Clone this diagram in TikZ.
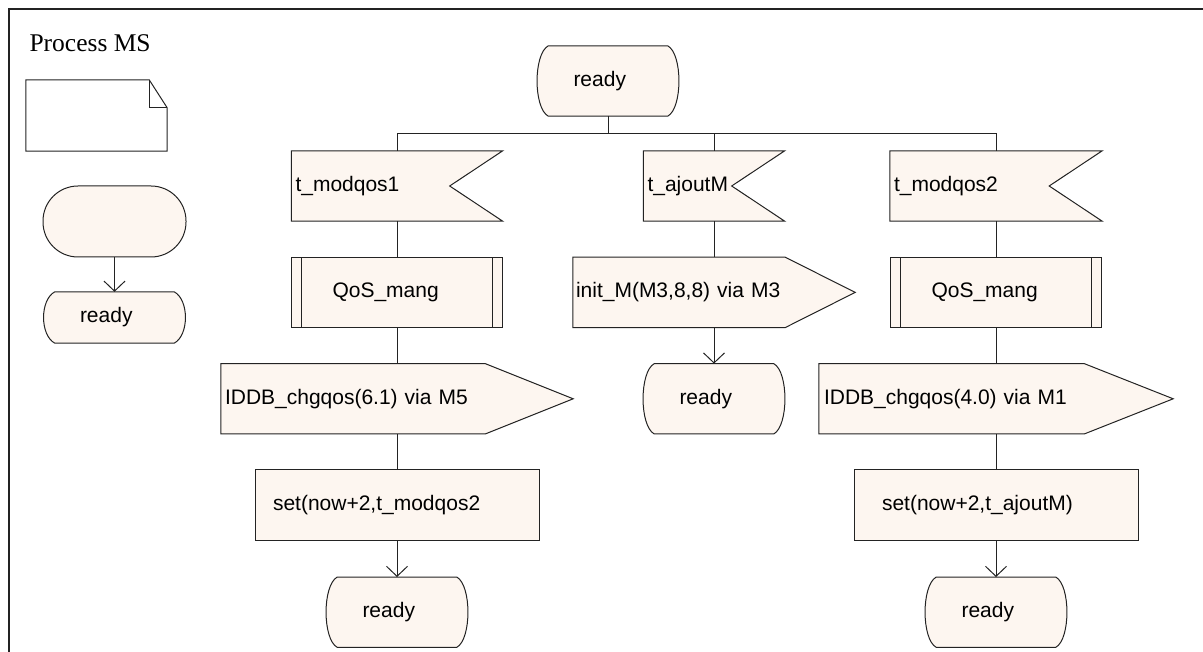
\documentclass[tikz,border=0pt]{standalone}
\usepackage{fontspec}
\setmainfont{Liberation Serif}
\setsansfont{Liberation Sans}
\usepackage{tikz}
\usetikzlibrary{positioning,backgrounds,arrows.meta}

\definecolor{sdlfill}{RGB}{253,246,240}
\definecolor{sdlline}{RGB}{35,35,35}

\tikzset{
  line/.style={draw=sdlline,line width=1pt},
  arr/.style={line,-{Straight Barb[length=10pt,width=21pt]}},
  sym/.style={draw=sdlline,line width=1pt,fill=sdlfill},
  box/.style={inner ysep=0pt,minimum height=70pt,align=left,font=\sffamily\fontsize{21}{25}\selectfont},
  state/.style={box,inner xsep=36pt,text width=69pt},
  input/.style={box,inner xsep=4pt},
  proc/.style={box,inner xsep=41pt,text width=129pt},
  output/.style={box,inner xsep=4pt},
  task/.style={box,sym,minimum height=71pt},
  startsym/.style={sym,inner sep=0pt,minimum width=143pt,minimum height=71pt,rounded corners=35pt},
  note/.style={inner sep=0pt,minimum width=141pt,minimum height=71pt}
}

\newcommand\statesym[1]{\path[sym] ([xshift=11pt]#1.north west) -- ([xshift=-11pt]#1.north east)
  .. controls ([xshift=4pt,yshift=-8pt]#1.north east) and ([xshift=4pt,yshift=8pt]#1.south east) .. ([xshift=-11pt]#1.south east)
  -- ([xshift=11pt]#1.south west)
  .. controls ([xshift=-4pt,yshift=8pt]#1.south west) and ([xshift=-4pt,yshift=-8pt]#1.north west) .. ([xshift=11pt]#1.north west) -- cycle;}
\newcommand\insym[1]{\path[sym] (#1.north west) -- (#1.north east) -- ([xshift=-53pt]#1.east) -- (#1.south east) -- (#1.south west) -- cycle;}
\newcommand\outsym[2]{\path[sym] (#1.north west) -- ([xshift=-#2]#1.north east) -- (#1.east) -- ([xshift=-#2]#1.south east) -- (#1.south west) -- cycle;}
\newcommand\procsym[1]{\path[sym] (#1.north west) rectangle (#1.south east);
  \draw[line] ([xshift=10pt]#1.north west) -- ([xshift=10pt]#1.south west) ([xshift=-10pt]#1.north east) -- ([xshift=-10pt]#1.south east);}
\newcommand\notesym[1]{\path[line,fill=white] (#1.north west) -- ([xshift=-18pt]#1.north east) -- ([yshift=-28pt]#1.north east) -- (#1.south east) -- (#1.south west) -- cycle;
  \draw[line] ([xshift=-18pt]#1.north east) -- ([xshift=-18pt,yshift=-28pt]#1.north east) -- ([yshift=-28pt]#1.north east);}

\begin{document}
\begin{tikzpicture}[x=1pt,y=-1pt]
    \useasboundingbox (0,0) rectangle (1203,652);
    \draw[line width=2pt,sdlline] (9,652) -- (9,9) -- (1203,9);
    \node[anchor=base west,font=\fontsize{25.5}{30}\selectfont] (title) at (26,52) {Process MS};

    \node[note] (15) at (96.5,115.5) {};
    \node[startsym] (16) at (114.5,221.5) {};
    \node[state,minimum height=51pt] (17) at (114.5,317.5) {ready};

    \node[state] (1) at (608,81) {ready};
    \node[input,text width=203pt] (2) at (397,186) {t\_modqos1};
    \node[input,text width=133pt] (3) at (714,186) {t\_ajoutM};
    \node[input,text width=204pt] (4) at (996,186) {t\_modqos2};
    \node[proc] (5)[below=36pt of 2] {QoS\_mang};
    \node[output,text width=344pt] (6)[below=36pt of 5] {IDDB\_chgqos(6.1) via M5};
    \node[task,inner xsep=18pt,text width=248pt] (7)[below=35pt of 6] {set(now+2,t\_modqos2};
    \node[state] (8)[below=36pt of 7] {ready};
    \node[output,inner xsep=3pt,text width=276pt] (9)[below=36pt of 3] {init\_M(M3,8,8) via M3};
    \node[state] (10)[below=36pt of 9] {ready};
    \node[proc] (11)[below=36pt of 4] {QoS\_mang};
    \node[output,inner xsep=5pt,text width=344pt] (12)[below=36pt of 11] {IDDB\_chgqos(4.0) via M1};
    \node[task,inner xsep=28pt,text width=228pt] (13)[below=35pt of 12] {set(now+2,t\_ajoutM)};
    \node[state] (14)[below=36pt of 13] {ready};

    \begin{pgfonlayer}{background}
        \notesym{15}
        \statesym{17} \statesym{1} \statesym{8} \statesym{10} \statesym{14}
        \insym{2} \insym{3} \insym{4}
        \procsym{5} \procsym{11}
        \outsym{6}{88pt} \outsym{9}{70pt} \outsym{12}{89pt}
    \end{pgfonlayer}

    \coordinate (bus) at ([yshift=-17pt]1.south);
    \draw[line] (1.south) -- (bus);
    \draw[line] (2.north) |- (bus) -| (4.north);
    \draw[line] (bus) -| (3.north);
    \draw[line] (2) -- (5) -- (6) -- (7);
    \draw[arr] (7) -- (8);
    \draw[line] (3) -- (9);
    \draw[arr] (9) -- (10);
    \draw[line] (4) -- (11) -- (12) -- (13);
    \draw[arr] (13) -- (14);
    \draw[arr] (16) -- (17);
\end{tikzpicture}
\end{document}
